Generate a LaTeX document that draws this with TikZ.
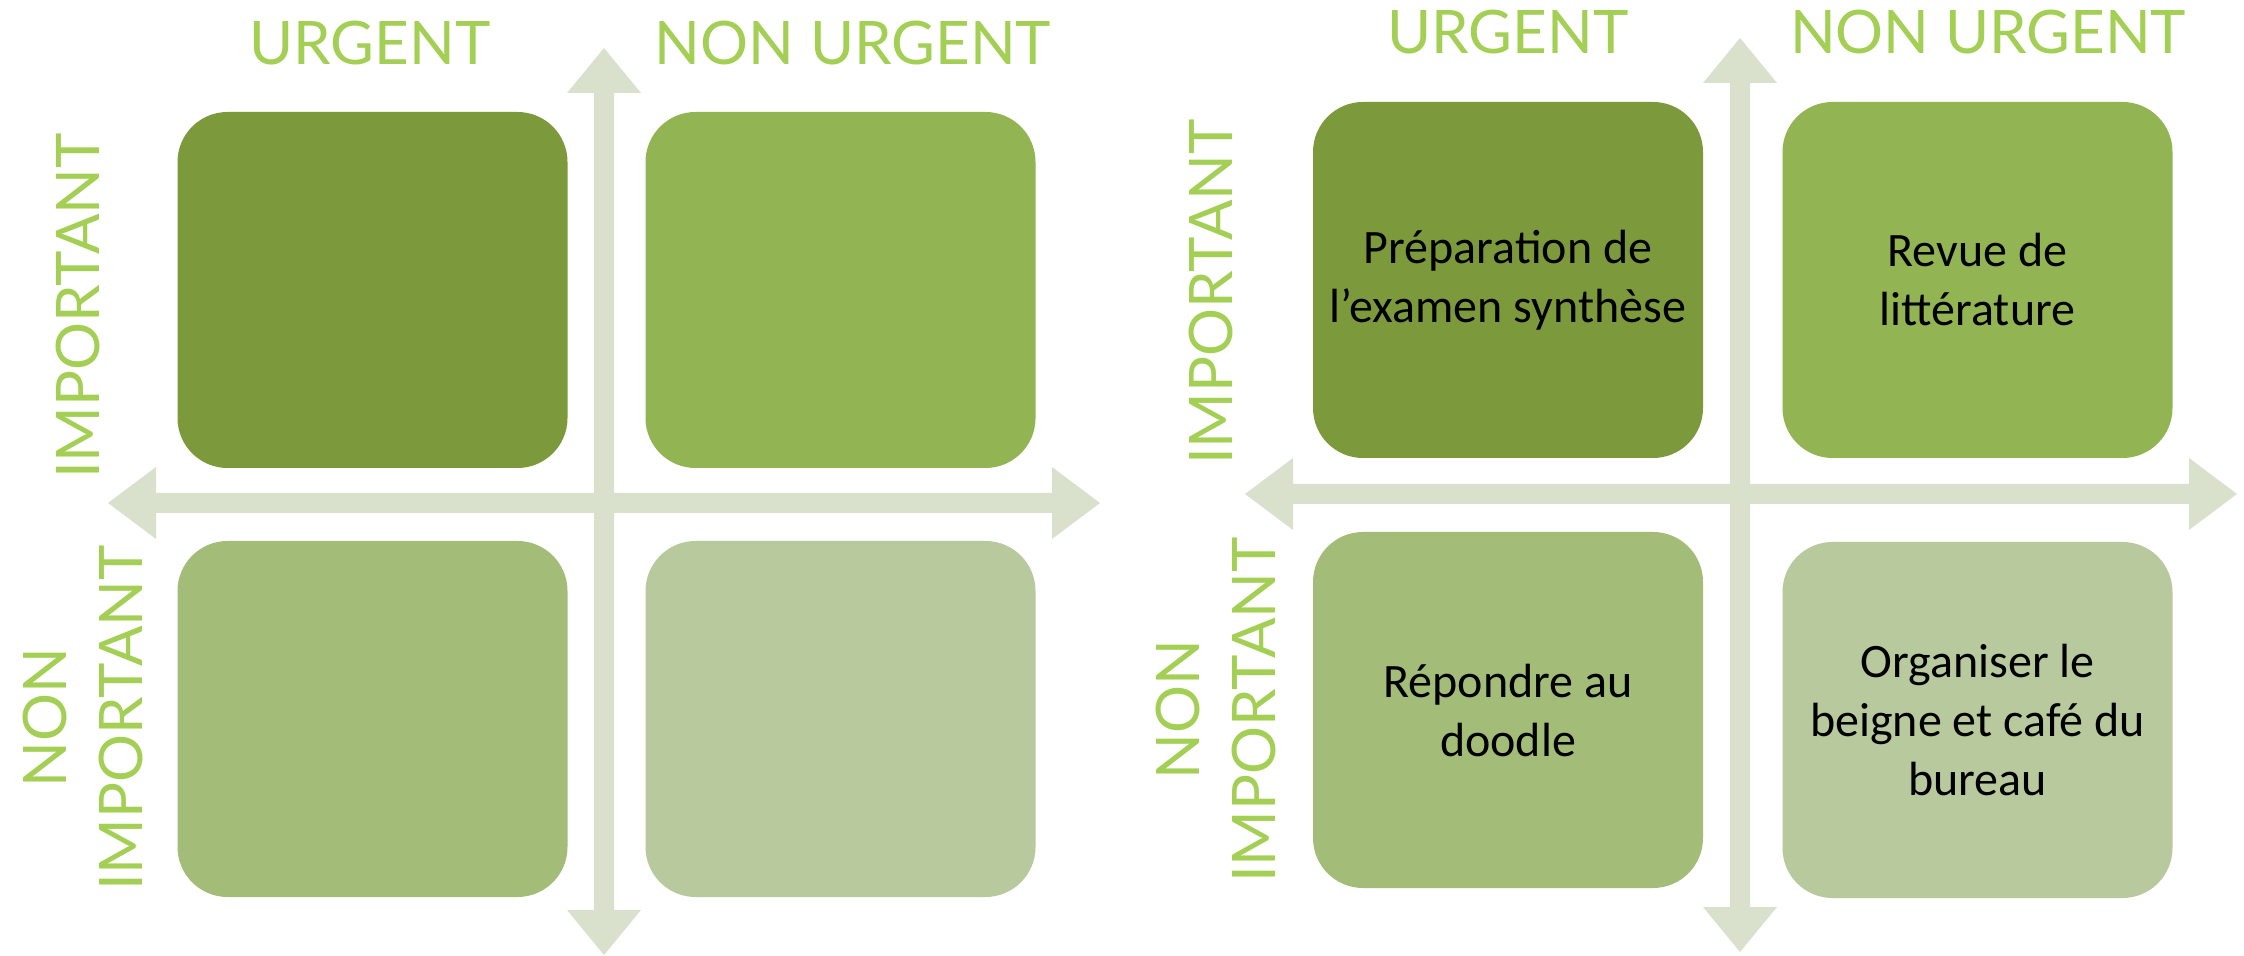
\documentclass[tikz,border=0pt]{standalone}
\usepackage{fontspec}
\setmainfont{Carlito}
\newfontfamily\axisfont{Lato}
\definecolor{qone}{RGB}{124,154,59}
\definecolor{qtwo}{RGB}{146,180,82}
\definecolor{qthree}{RGB}{163,188,120}
\definecolor{qfour}{RGB}{184,201,157}
\definecolor{axisgrey}{RGB}{217,225,205}
\definecolor{lime}{RGB}{163,207,84}
% cross of two double-headed arrows: #1,#2 centre; #3,#4 left/right tips; #5,#6 top/bottom tips
\newcommand\crossaxes[6]{%
  \fill[axisgrey] (#3,#2) -- ({#3+48},{#2-36}) -- ({#3+48},{#2-10}) -- ({#4-48},{#2-10})
    -- ({#4-48},{#2-36}) -- (#4,#2) -- ({#4-48},{#2+36}) -- ({#4-48},{#2+10})
    -- ({#3+48},{#2+10}) -- ({#3+48},{#2+36}) -- cycle;
  \fill[axisgrey] (#1,#5) -- ({#1+37},{#5+45}) -- ({#1+10},{#5+45}) -- ({#1+10},{#6-45})
    -- ({#1+37},{#6-45}) -- (#1,#6) -- ({#1-37},{#6-45}) -- ({#1-10},{#6-45})
    -- ({#1-10},{#5+45}) -- ({#1-37},{#5+45}) -- cycle;
}
\begin{document}
\begin{tikzpicture}[x=0.5pt,y=-0.5pt,
  quad/.style={rounded corners=25pt, minimum width=195pt, minimum height=178pt,
    inner sep=0pt, align=center, text=black, font=\fontsize{24}{29.5}\selectfont},
  axislabel/.style={text=lime, align=center, inner sep=0pt,
    font=\axisfont\fontsize{30}{38}\selectfont}]
\useasboundingbox[fill=white] (0,0) rectangle (2244,956);

% ---- left matrix ----
\crossaxes{604}{503}{108}{1100}{48}{955}
\node[quad, fill=qone]   (lTL) at (372.5,290) {};
\node[quad, fill=qtwo]   (lTR) at (840.5,290) {};
\node[quad, fill=qthree] (lBL) at (372.5,719) {};
\node[quad, fill=qfour]  (lBR) at (840.5,719) {};
\node[axislabel] (lU)  at (370,43) {URGENT};
\node[axislabel] (lNU) at (853,43) {NON URGENT};
\node[axislabel, rotate=90] (lI)  at (78,306) {IMPORTANT};
\node[axislabel, rotate=90] (lNI) at (83,718) {NON\\IMPORTANT};

% ---- right matrix ----
\crossaxes{1740}{494}{1245}{2237}{38}{952}
\node[quad, fill=qone]   (rTL) at (1508,280) {Préparation de\\l’examen synthèse};
\node[quad, fill=qtwo]   (rTR) at (1977.5,280) {Revue de\\littérature};
\node[quad, fill=qthree] (rBL) at (1508,710) {Répondre au\\doodle};
\node[quad, fill=qfour]  (rBR) at (1977.5,720) {Organiser le\\beigne et café du\\bureau};
\node[axislabel] (rU)  at (1508,32) {URGENT};
\node[axislabel] (rNU) at (1988,32) {NON URGENT};
\node[axislabel, rotate=90] (rI)  at (1211,292) {IMPORTANT};
\node[axislabel, rotate=90] (rNI) at (1216,710) {NON\\IMPORTANT};
\end{tikzpicture}
\end{document}
